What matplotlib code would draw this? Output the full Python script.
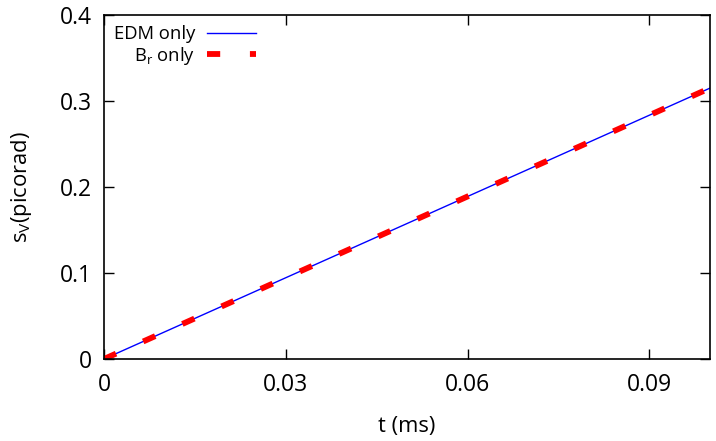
import matplotlib
matplotlib.use("Agg")
import matplotlib.pyplot as plt

plt.rcParams['font.family'] = ['Open Sans', 'DejaVu Sans']
plt.rcParams['mathtext.default'] = 'regular'
plt.rcParams['lines.scale_dashes'] = False

# data
t_edm = [0.0, 0.1]
s_edm = [0.0, 0.315]
t_br = [0.0, 0.1]
s_br = [0.0, 0.315]
xticks = [0, 0.03, 0.06, 0.09]
xticklabels = ['0', '0.03', '0.06', '0.09']
yticks = [0, 0.1, 0.2, 0.3, 0.4]
yticklabels = ['0', '0.1', '0.2', '0.3', '0.4']

fig = plt.figure(figsize=(7.16, 4.41), dpi=100)
ax = fig.add_axes([104/716, 1 - 359/441, (710-104)/716, (359-15)/441])

ax.plot(t_edm, s_edm, color='#0000ff', lw=1.0, label='EDM only')
ax.plot(t_br, s_br, color='#ff0000', lw=4.2, dashes=(9.5, 21.4), solid_capstyle='butt',
        dash_capstyle='butt', label='B$_r$ only')

ax.set_xlim(0, 0.1)
ax.set_ylim(0, 0.4)
ax.set_xticks(xticks)
ax.set_xticklabels(xticklabels)
ax.set_yticks(yticks)
ax.set_yticklabels(yticklabels)
ax.tick_params(direction='in', length=7, width=1, top=True, right=True,
               labelsize=16.5, colors='black')
ax.tick_params(axis='x', pad=10)
ax.tick_params(axis='y', pad=9)
for s in ax.spines.values():
    s.set_linewidth(1.2)

ax.set_xlabel('t (ms)', fontsize=15.8)
ax.set_ylabel('s$_V$(picorad)', fontsize=15.8)
ax.xaxis.set_label_coords(0.5, -0.165)
ax.yaxis.set_label_coords(-0.115, 0.5)

leg = ax.legend(loc='upper left', bbox_to_anchor=(0.0, 1.0), frameon=False,
                markerfirst=False, fontsize=13.3, handlelength=2.7,
                handletextpad=0.6, labelspacing=0.08, borderaxespad=0.15)

fig.savefig('out.png', dpi=100)
